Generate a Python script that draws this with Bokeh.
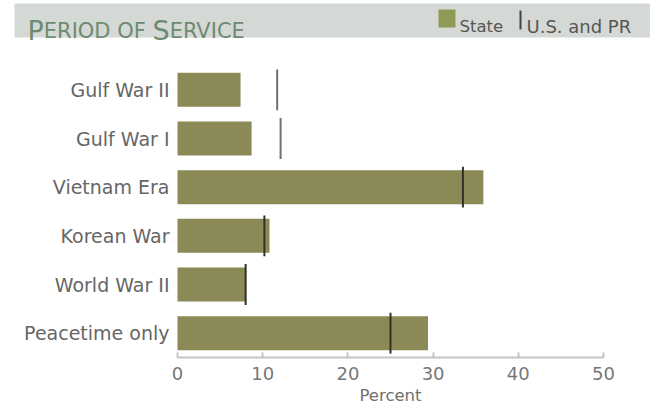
from bokeh.plotting import figure
from bokeh.models import Range1d, ColumnDataSource, FixedTicker
from bokeh.core.properties import value
from bokeh.embed import file_html
from bokeh.resources import INLINE

# ---- data ----
categories = ["Gulf War II", "Gulf War I", "Vietnam Era", "Korean War", "World War II", "Peacetime only"]
state_pct = [7.4, 8.7, 35.9, 10.8, 8.0, 29.4]
us_pct = [11.7, 12.1, 33.5, 10.2, 8.0, 25.0]
x_ticks = [0, 10, 20, 30, 40, 50]
x_title = "Percent"

FONT = "DejaVu Sans"
BAR = "#8b8a57"
LABEL_GREY = "#666666"

# layout geometry (pixels)
PLOT_L, PLOT_R, PLOT_T, PLOT_B = 177, 603, 65, 357   # where the 0..50 bar area sits
W, H = 650, 404
XMIN, XMAX = 0, 50
NCAT = len(categories)


def dx(px):
    return XMIN + (px - PLOT_L) * (XMAX - XMIN) / (PLOT_R - PLOT_L)


def dy(py):
    return NCAT + (PLOT_T - py) * NCAT / (PLOT_B - PLOT_T)


ypos = [NCAT - 0.5 - i for i in range(NCAT)]

src = ColumnDataSource(dict(
    cat=categories, y=ypos, state=state_pct, us=us_pct,
    lc=["#2e3326" if u <= s else "#707070" for u, s in zip(us_pct, state_pct)],
))

p = figure(width=W, height=H, x_range=Range1d(dx(0), dx(W)), y_range=Range1d(dy(H), dy(0)),
           output_backend="svg", toolbar_location=None, y_axis_location=None,
           min_border_left=0, min_border_right=0, min_border_top=0, min_border_bottom=0)
p.outline_line_color = None
p.xgrid.visible = False
p.ygrid.visible = False

# header band
p.quad(left=dx(14), right=dx(650), bottom=dy(37), top=dy(3), fill_color="#d5d9d5", line_color=None)

title_col = "#6d8b72"
big, small = 27, 21
x0 = 27
w_P = 0.603 * big
w_erio = (0.632 + 0.695 + 0.295 + 0.787 + 0.770 + 0.318 + 0.787 + 0.575 + 0.318) * small
w_S = 0.635 * big
for txt, px, fs in [("P", x0, big), ("ERIOD OF", x0 + w_P, small),
                    ("S", x0 + w_P + w_erio, big), ("ERVICE", x0 + w_P + w_erio + w_S, small)]:
    p.text(x=[dx(px)], y=[dy(30)], text=[txt], text_font=value(FONT), text_font_size=f"{fs}px",
           text_color=title_col, text_baseline="alphabetic", text_align="left")

p.quad(left=dx(438), right=dx(455), bottom=dy(27), top=dy(9), fill_color="#8f9a55", line_color=None)
p.text(x=[dx(459)], y=[dy(26)], text=["State"], text_font=value(FONT), text_font_size="16.5px",
       text_color="#555555", text_baseline="alphabetic")
p.quad(left=dx(519), right=dx(521), bottom=dy(29), top=dy(10), fill_color="#444444", line_color=None)
p.text(x=[dx(526)], y=[dy(26)], text=["U.S. and PR"], text_font=value(FONT), text_font_size="18px",
       text_color="#555555", text_baseline="alphabetic")

# bars and markers
p.hbar(y="y", left=0, right="state", height=0.7, source=src, fill_color=BAR, line_color=None)
p.rect(x="us", y="y", width=2, width_units="screen", height=0.84, source=src,
       fill_color="lc", line_color=None)

# category labels
p.text(x=dx(169), y="y", text="cat", source=src, text_font=value(FONT), text_font_size="19px",
       text_color=LABEL_GREY, text_align="right", text_baseline="middle")

# x axis title (centred on the 0..50 scale)
p.text(x=[(XMIN + XMAX) / 2], y=[dy(395)], text=[x_title], text_font=value(FONT),
       text_font_size="16.5px", text_color="#707070", text_align="center", text_baseline="alphabetic")

xa = p.xaxis[0]
xa.fixed_location = 0
xa.bounds = (XMIN, XMAX)
xa.ticker = FixedTicker(ticks=x_ticks)
xa.axis_line_color = "#c4c4c4"
xa.axis_line_width = 2
xa.major_tick_line_color = "#c4c4c4"
xa.major_tick_line_width = 2
xa.major_tick_in = 5
xa.major_tick_out = 0
xa.minor_tick_line_color = None
xa.major_label_standoff = 9
xa.major_label_text_font = FONT
xa.major_label_text_font_size = "18px"
xa.major_label_text_color = "#777777"

open("out.html", "w").write(file_html(p, INLINE))
